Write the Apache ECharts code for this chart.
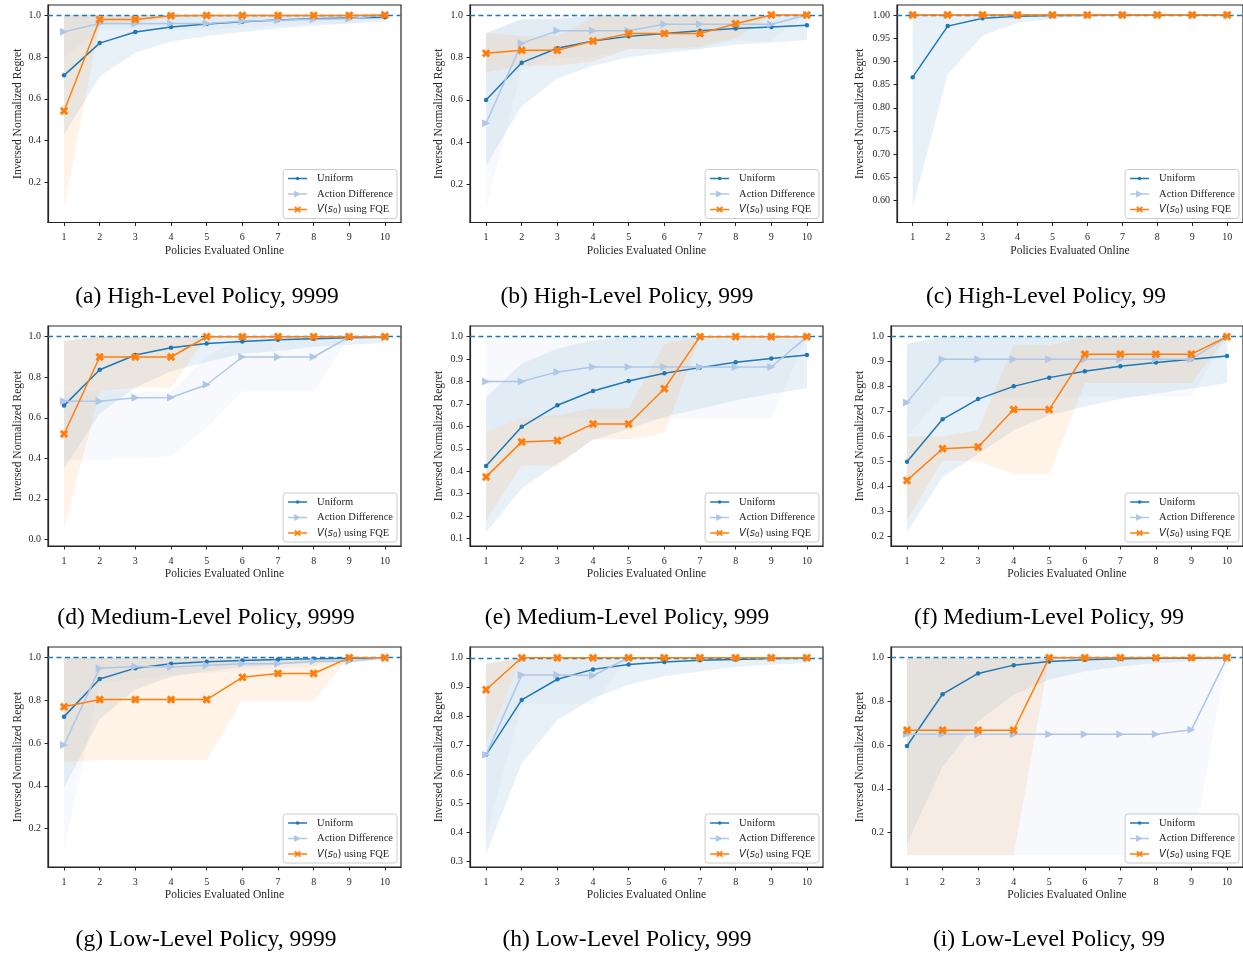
<!DOCTYPE html>
<html><head><meta charset="utf-8">
<script src="https://cdn.jsdelivr.net/npm/echarts@6/dist/echarts.min.js"></script>
<style>html,body{margin:0;padding:0;background:#fff}#c{width:1243px;height:957px}</style>
</head><body><div id="c"></div>
<script>
// ---------- DATA ----------
const xValues = [1, 2, 3, 4, 5, 6, 7, 8, 9, 10];
const seriesNames = ['Uniform', 'Action Difference', 'V(s_0) using FQE'];
const captions = ['(a) High-Level Policy, 9999', '(b) High-Level Policy, 999', '(c) High-Level Policy, 99',
  '(d) Medium-Level Policy, 9999', '(e) Medium-Level Policy, 999', '(f) Medium-Level Policy, 99',
  '(g) Low-Level Policy, 9999', '(h) Low-Level Policy, 999', '(i) Low-Level Policy, 99'];
const xAxisTitle = 'Policies Evaluated Online';
const yAxisTitle = 'Inversed Normalized Regret';

// y tick labels per panel
const a_yticks = [0.2, 0.4, 0.6, 0.8, 1.0];
const b_yticks = [0.2, 0.4, 0.6, 0.8, 1.0];
const c_yticks = [0.60, 0.65, 0.70, 0.75, 0.80, 0.85, 0.90, 0.95, 1.00];
const d_yticks = [0.0, 0.2, 0.4, 0.6, 0.8, 1.0];
const e_yticks = [0.1, 0.2, 0.3, 0.4, 0.5, 0.6, 0.7, 0.8, 0.9, 1.0];
const f_yticks = [0.2, 0.3, 0.4, 0.5, 0.6, 0.7, 0.8, 0.9, 1.0];
const g_yticks = [0.2, 0.4, 0.6, 0.8, 1.0];
const h_yticks = [0.3, 0.4, 0.5, 0.6, 0.7, 0.8, 0.9, 1.0];
const i_yticks = [0.2, 0.4, 0.6, 0.8, 1.0];

// (a)
const a_uni    = [0.712, 0.866, 0.919, 0.943, 0.957, 0.968, 0.976, 0.982, 0.986, 0.990];
const a_uni_lo = [0.43, 0.707, 0.82, 0.874, 0.90, 0.919, 0.936, 0.95, 0.96, 0.968];
const a_uni_hi = [1, 1, 1, 1, 1, 1, 1, 1, 1, 1];
const a_act    = [0.920, 0.960, 0.959, 0.960, 0.960, 0.970, 0.975, 0.980, 0.982, 1.0];
const a_act_lo = [0.80, 0.93, 0.93, 0.93, 0.93, 0.94, 0.95, 0.96, 0.96, 1.0];
const a_act_hi = [1, 1, 1, 1, 1, 1, 1, 1, 1, 1];
const a_fqe    = [0.542, 0.979, 0.979, 0.997, 0.998, 0.998, 0.998, 0.998, 0.998, 1.0];
const a_fqe_lo = [0.08, 0.96, 0.96, 0.99, 0.99, 0.99, 0.99, 0.99, 0.99, 1.0];
const a_fqe_hi = [1, 1, 1, 1, 1, 1, 1, 1, 1, 1];
// (b)
const b_uni    = [0.599, 0.775, 0.843, 0.877, 0.899, 0.912, 0.925, 0.936, 0.943, 0.951];
const b_uni_lo = [0.29, 0.57, 0.70, 0.76, 0.80, 0.82, 0.84, 0.86, 0.87, 0.882];
const b_uni_hi = [0.915, 0.98, 0.98, 1, 1, 1, 1, 1, 1, 1];
const b_act    = [0.489, 0.866, 0.925, 0.925, 0.925, 0.956, 0.956, 0.956, 0.956, 1.0];
const b_act_lo = [0.09, 0.74, 0.80, 0.80, 0.84, 0.84, 0.84, 0.88, 0.88, 1.0];
const b_act_hi = [0.915, 0.98, 1, 1, 1, 1, 1, 1, 1, 1];
const b_fqe    = [0.819, 0.833, 0.833, 0.877, 0.912, 0.912, 0.912, 0.959, 1.0, 1.0];
const b_fqe_lo = [0.73, 0.76, 0.76, 0.78, 0.84, 0.84, 0.85, 0.89, 1.0, 1.0];
const b_fqe_hi = [0.915, 0.90, 0.90, 0.99, 1, 1, 1, 1, 1, 1];
// (c)
const c_uni    = [0.866, 0.976, 0.993, 0.997, 0.999, 0.9995, 1, 1, 1, 1];
const c_uni_lo = [0.586, 0.872, 0.956, 0.983, 0.992, 0.996, 0.998, 0.999, 1.0, 1.0];
const c_uni_hi = [1, 1, 1, 1, 1, 1, 1, 1, 1, 1];
const c_act    = [1, 1, 1, 1, 1, 1, 1, 1, 1, 1];
const c_act_lo = [1, 1, 1, 1, 1, 1, 1, 1, 1, 1];
const c_act_hi = [1, 1, 1, 1, 1, 1, 1, 1, 1, 1];
const c_fqe    = [1, 1, 1, 1, 1, 1, 1, 1, 1, 1];
const c_fqe_lo = [1, 1, 1, 1, 1, 1, 1, 1, 1, 1];
const c_fqe_hi = [1, 1, 1, 1, 1, 1, 1, 1, 1, 1];
// (d)
const d_uni    = [0.66, 0.837, 0.91, 0.946, 0.967, 0.977, 0.985, 0.99, 0.995, 0.998];
const d_uni_lo = [0.35, 0.62, 0.75, 0.83, 0.875, 0.916, 0.93, 0.95, 0.96, 0.97];
const d_uni_hi = [0.98, 1, 1, 1, 1, 1, 1, 1, 1, 1];
const d_act    = [0.681, 0.681, 0.699, 0.70, 0.763, 0.90, 0.90, 0.90, 1.0, 1.0];
const d_act_lo = [0.39, 0.39, 0.40, 0.41, 0.55, 0.73, 0.73, 0.73, 1.0, 1.0];
const d_act_hi = [0.73, 0.73, 0.73, 0.73, 0.90, 1, 1, 1, 1, 1];
const d_fqe    = [0.52, 0.90, 0.90, 0.90, 1.0, 1, 1, 1, 1, 1];
const d_fqe_lo = [0.05, 0.73, 0.75, 0.75, 1.0, 1, 1, 1, 1, 1];
const d_fqe_hi = [0.98, 1, 1, 1, 1, 1, 1, 1, 1, 1];
// (e)
const e_uni    = [0.424, 0.598, 0.694, 0.758, 0.802, 0.837, 0.862, 0.886, 0.903, 0.918];
const e_uni_lo = [0.128, 0.323, 0.434, 0.538, 0.59, 0.642, 0.679, 0.716, 0.746, 0.77];
const e_uni_hi = [0.73, 0.88, 0.946, 0.984, 1, 1, 1, 1, 1, 1];
const e_act    = [0.80, 0.80, 0.843, 0.865, 0.865, 0.865, 0.865, 0.865, 0.865, 1.0];
const e_act_lo = [0.575, 0.635, 0.635, 0.635, 0.635, 0.635, 0.635, 0.635, 0.635, 1.0];
const e_act_hi = [1, 1, 1, 1, 1, 1, 1, 1, 1, 1];
const e_fqe    = [0.375, 0.531, 0.537, 0.611, 0.611, 0.768, 1, 1, 1, 1];
const e_fqe_lo = [0.18, 0.427, 0.424, 0.545, 0.543, 0.57, 1, 1, 1, 1];
const e_fqe_hi = [0.575, 0.635, 0.65, 0.68, 0.68, 0.966, 1, 1, 1, 1];
// (f)
const f_uni    = [0.499, 0.669, 0.75, 0.801, 0.836, 0.862, 0.882, 0.897, 0.91, 0.923];
const f_uni_lo = [0.217, 0.438, 0.53, 0.625, 0.685, 0.72, 0.75, 0.772, 0.792, 0.814];
const f_uni_hi = [0.972, 1, 1, 1, 1, 1, 1, 1, 1, 1];
const f_act    = [0.736, 0.91, 0.91, 0.91, 0.91, 0.91, 0.91, 0.91, 0.91, 1.0];
const f_act_lo = [0.60, 0.76, 0.76, 0.76, 0.76, 0.76, 0.76, 0.76, 0.76, 1.0];
const f_act_hi = [0.97, 1, 1, 1, 1, 1, 1, 1, 1, 1];
const f_fqe    = [0.424, 0.551, 0.558, 0.708, 0.708, 0.93, 0.93, 0.93, 0.93, 1.0];
const f_fqe_lo = [0.264, 0.504, 0.50, 0.45, 0.45, 0.814, 0.814, 0.814, 0.814, 1.0];
const f_fqe_hi = [0.60, 0.60, 0.625, 0.965, 0.965, 1, 1, 1, 1, 1];
// (g)
const g_uni    = [0.724, 0.90, 0.951, 0.972, 0.981, 0.987, 0.991, 0.995, 0.997, 0.998];
const g_uni_lo = [0.39, 0.713, 0.85, 0.912, 0.936, 0.956, 0.967, 0.975, 0.983, 0.99];
const g_uni_hi = [1, 1, 1, 1, 1, 1, 1, 1, 1, 1];
const g_act    = [0.591, 0.951, 0.959, 0.956, 0.964, 0.972, 0.972, 0.983, 0.983, 1.0];
const g_act_lo = [0.10, 0.88, 0.90, 0.92, 0.93, 0.94, 0.95, 0.96, 0.97, 1.0];
const g_act_hi = [1, 1, 1, 1, 1, 1, 1, 1, 1, 1];
const g_fqe    = [0.77, 0.804, 0.804, 0.804, 0.804, 0.908, 0.926, 0.926, 1.0, 1.0];
const g_fqe_lo = [0.513, 0.52, 0.52, 0.52, 0.52, 0.80, 0.80, 0.80, 1.0, 1.0];
const g_fqe_hi = [1, 1, 1, 1, 1, 1, 1, 1, 1, 1];
// (h)
const h_uni    = [0.666, 0.855, 0.926, 0.96, 0.977, 0.985, 0.991, 0.994, 0.997, 0.998];
const h_uni_lo = [0.326, 0.637, 0.786, 0.861, 0.907, 0.936, 0.953, 0.968, 0.976, 0.982];
const h_uni_hi = [0.98, 1, 1, 1, 1, 1, 1, 1, 1, 1];
const h_act    = [0.666, 0.941, 0.941, 0.939, 1.0, 1, 1, 1, 1, 1];
const h_act_lo = [0.38, 0.84, 0.84, 0.84, 1.0, 1, 1, 1, 1, 1];
const h_act_hi = [0.72, 1, 1, 1, 1, 1, 1, 1, 1, 1];
const h_fqe    = [0.89, 1, 1, 1, 1, 1, 1, 1, 1, 1];
const h_fqe_lo = [0.71, 1, 1, 1, 1, 1, 1, 1, 1, 1];
const h_fqe_hi = [0.98, 1, 1, 1, 1, 1, 1, 1, 1, 1];
// (i)
const i_uni    = [0.596, 0.833, 0.928, 0.966, 0.983, 0.991, 0.995, 0.998, 0.998, 1.0];
const i_uni_lo = [0.15, 0.50, 0.71, 0.83, 0.90, 0.937, 0.96, 0.975, 0.985, 0.99];
const i_uni_hi = [1, 1, 1, 1, 1, 1, 1, 1, 1, 1];
const i_act    = [0.65, 0.65, 0.65, 0.65, 0.65, 0.65, 0.65, 0.65, 0.67, 1.0];
const i_act_lo = [0.096, 0.096, 0.096, 0.096, 0.096, 0.096, 0.096, 0.096, 0.096, 1.0];
const i_act_hi = [1, 1, 1, 1, 1, 1, 1, 1, 1, 1];
const i_fqe    = [0.668, 0.668, 0.668, 0.668, 1, 1, 1, 1, 1, 1];
const i_fqe_lo = [0.096, 0.096, 0.096, 0.096, 1, 1, 1, 1, 1, 1];
const i_fqe_hi = [1, 1, 1, 1, 1, 1, 1, 1, 1, 1];

// ---------- LAYOUT ----------
const W = 1243, H = 957;
const panels = [
  {cap: 0, d: [[a_uni, a_uni_lo, a_uni_hi], [a_act, a_act_lo, a_act_hi], [a_fqe, a_fqe_lo, a_fqe_hi]], ticks: a_yticks, ymin: 0.009, ymax: 1.048, dec: 1, g: [48, 5, 353, 217.5], gap: 24.5, cx: 207, cy: 297},
  {cap: 1, d: [[b_uni, b_uni_lo, b_uni_hi], [b_act, b_act_lo, b_act_hi], [b_fqe, b_fqe_lo, b_fqe_hi]], ticks: b_yticks, ymin: 0.021, ymax: 1.047, dec: 1, g: [470, 5, 353, 217.5], gap: 25, cx: 627, cy: 297},
  {cap: 2, d: [[c_uni, c_uni_lo, c_uni_hi], [c_act, c_act_lo, c_act_hi], [c_fqe, c_fqe_lo, c_fqe_hi]], ticks: c_yticks, ymin: 0.553, ymax: 1.0215, dec: 2, g: [897, 5, 346, 217.5], gap: 31, cx: 1046, cy: 297},
  {cap: 3, d: [[d_uni, d_uni_lo, d_uni_hi], [d_act, d_act_lo, d_act_hi], [d_fqe, d_fqe_lo, d_fqe_hi]], ticks: d_yticks, ymin: -0.033, ymax: 1.053, dec: 1, g: [48, 326, 353, 220], gap: 24.5, cx: 206, cy: 618},
  {cap: 4, d: [[e_uni, e_uni_lo, e_uni_hi], [e_act, e_act_lo, e_act_hi], [e_fqe, e_fqe_lo, e_fqe_hi]], ticks: e_yticks, ymin: 0.067, ymax: 1.0475, dec: 1, g: [470, 326, 353, 220], gap: 25, cx: 627, cy: 618},
  {cap: 5, d: [[f_uni, f_uni_lo, f_uni_hi], [f_act, f_act_lo, f_act_hi], [f_fqe, f_fqe_lo, f_fqe_hi]], ticks: f_yticks, ymin: 0.161, ymax: 1.043, dec: 1, g: [891, 326, 352, 220], gap: 25, cx: 1049, cy: 618},
  {cap: 6, d: [[g_uni, g_uni_lo, g_uni_hi], [g_act, g_act_lo, g_act_hi], [g_fqe, g_fqe_lo, g_fqe_hi]], ticks: g_yticks, ymin: 0.02, ymax: 1.05, dec: 1, g: [48, 647, 353, 220], gap: 24.5, cx: 206, cy: 940},
  {cap: 7, d: [[h_uni, h_uni_lo, h_uni_hi], [h_act, h_act_lo, h_act_hi], [h_fqe, h_fqe_lo, h_fqe_hi]], ticks: h_yticks, ymin: 0.28, ymax: 1.037, dec: 1, g: [470, 647, 353, 220], gap: 25, cx: 627, cy: 940},
  {cap: 8, d: [[i_uni, i_uni_lo, i_uni_hi], [i_act, i_act_lo, i_act_hi], [i_fqe, i_fqe_lo, i_fqe_hi]], ticks: i_yticks, ymin: 0.042, ymax: 1.049, dec: 1, g: [891, 647, 352, 220], gap: 25, cx: 1049, cy: 940}
];

// ---------- STYLE ----------
const SERIF = 'Liberation Serif, Times New Roman, serif';
const INK = '#262626';
const colors = ['#1f77b4', '#aec7e8', '#ff7f0e'];
const bandColors = ['rgba(31,119,180,0.1)', 'rgba(174,199,232,0.1)', 'rgba(255,127,14,0.1)'];
const X_PATH = 'M0,2.5L2.5,0L5,2.5L7.5,0L10,2.5L7.5,5L10,7.5L7.5,10L5,7.5L2.5,10L0,7.5L2.5,5Z';
const symbols = ['circle', 'path://M0,0L10,5L0,10Z', 'path://' + X_PATH];
const symbolSizes = [4.5, 8, 8.5];
// legend icons: a thin line with the marker in the middle, inside a 19x10 box
const BOX = 'M0,0L0.01,0L0,0.01Z M19,10L18.99,10L19,9.99Z ';
const LINE = 'M0,4.35L19,4.35L19,5.65L0,5.65Z ';
const legendIcons = [
  'path://' + BOX + LINE + 'M9.5,3.2A1.8,1.8 0 1,1 9.49,3.2Z',
  'path://' + BOX + LINE + 'M6,1.5L13,5L6,8.5Z',
  'path://' + BOX + LINE + 'M6.2,2.9L7.4,1.7L9.5,3.8L11.6,1.7L12.8,2.9L10.7,5L12.8,7.1L11.6,8.3L9.5,6.2L7.4,8.3L6.2,7.1L8.3,5Z'
];

const grids = [], xAxes = [], yAxes = [], series = [], legends = [], graphics = [];

panels.forEach((p, pi) => {
  const [gl, gt, gw, gh] = p.g;
  grids.push({left: gl, top: gt, width: gw, height: gh, show: true, borderColor: INK, borderWidth: 1.2, backgroundColor: 'transparent'});
  xAxes.push({
    gridIndex: pi, type: 'value', min: 0.55, max: 10.45,
    name: xAxisTitle, nameLocation: 'middle', nameGap: 22,
    nameTextStyle: {fontFamily: SERIF, fontSize: 11.5, color: INK},
    axisLine: {show: true, onZero: false, lineStyle: {color: INK, width: 1.2}},
    axisTick: {show: true, inside: false, length: 3.5, customValues: xValues, lineStyle: {color: INK, width: 1}},
    axisLabel: {show: true, customValues: xValues, margin: 10, fontFamily: SERIF, fontSize: 10, color: INK, formatter: v => String(v)},
    splitLine: {show: false}
  });
  yAxes.push({
    gridIndex: pi, type: 'value', min: p.ymin, max: p.ymax,
    name: yAxisTitle, nameLocation: 'middle', nameGap: p.gap,
    nameTextStyle: {fontFamily: SERIF, fontSize: 11.5, color: INK},
    axisLine: {show: true, onZero: false, lineStyle: {color: INK, width: 1.2}},
    axisTick: {show: true, inside: false, length: 3.5, customValues: p.ticks, lineStyle: {color: INK, width: 1}},
    axisLabel: {show: true, customValues: p.ticks, margin: 7, fontFamily: SERIF, fontSize: 10, color: INK, formatter: v => Number(v).toFixed(p.dec)},
    splitLine: {show: false}
  });
  // bands
  p.d.forEach(([mean, lo, hi], mi) => {
    series.push({
      type: 'custom', name: 'band-' + pi + '-' + mi, xAxisIndex: pi, yAxisIndex: pi, silent: true, z: 1,
      data: xValues.map((x, k) => [x, lo[k], hi[k]]),
      encode: {x: 0, y: [1, 2]},
      renderItem: (params, api) => {
        if (params.dataIndex !== 0) return null;
        const up = xValues.map((x, k) => api.coord([x, hi[k]]));
        const dn = xValues.map((x, k) => api.coord([x, lo[k]])).reverse();
        return {type: 'polygon', shape: {points: up.concat(dn)}, style: {fill: bandColors[mi], stroke: null}, silent: true};
      }
    });
  });
  // lines
  p.d.forEach(([mean], mi) => {
    const s = {
      type: 'line', name: seriesNames[mi], xAxisIndex: pi, yAxisIndex: pi,
      data: xValues.map((x, k) => [x, mean[k]]),
      symbol: symbols[mi], symbolSize: symbolSizes[mi], showSymbol: true, showAllSymbol: true,
      lineStyle: {color: colors[mi], width: 1.5}, itemStyle: {color: colors[mi]},
      z: 3 + mi, clip: false, silent: true
    };
    if (mi === 2) {
      s.markLine = {silent: true, symbol: ['none', 'none'], label: {show: false},
        lineStyle: {type: [5, 3.5], color: '#1f77b4', width: 1.3}, data: [{yAxis: 1}]};
    }
    series.push(s);
  });
  legends.push({
    data: seriesNames.map((n, mi) => ({name: n, icon: legendIcons[mi]})),
    orient: 'vertical', selectedMode: false,
    right: W - (gl + gw) + 4, bottom: H - (gt + gh) + 4,
    itemWidth: 19, itemHeight: 10, itemGap: 3.5, padding: [3, 4, 3, 5],
    backgroundColor: 'rgba(255,255,255,0.8)', borderColor: '#cccccc', borderWidth: 1, borderRadius: 3,
    textStyle: {fontFamily: SERIF, fontSize: 10.5, color: INK, lineHeight: 12, padding: [0, 0, 0, 5],
      rich: {
        m: {fontFamily: 'DejaVu Sans', fontStyle: 'italic', fontSize: 10, lineHeight: 12},
        p: {fontFamily: 'DejaVu Sans', fontSize: 10, lineHeight: 12},
        s: {fontFamily: 'DejaVu Sans', fontSize: 7, lineHeight: 12, padding: [4, 0, 0, 0]},
        t: {fontFamily: SERIF, fontSize: 10.5, lineHeight: 12}
      }},
    formatter: n => n === seriesNames[2] ? '{m|V}{p|(}{m|s}{s|0}{p|)}{t| using FQE}' : n
  });
  graphics.push({type: 'text', x: p.cx, y: p.cy, silent: true,
    style: {text: captions[p.cap], fontFamily: SERIF, fontSize: 23.5, fill: '#000',
      align: 'center', verticalAlign: 'middle', textAlign: 'center', textVerticalAlign: 'middle'}});
});

const chart = echarts.init(document.getElementById('c'), null, {renderer: 'canvas', width: W, height: H});
chart.setOption({
  animation: false, backgroundColor: '#ffffff',
  grid: grids, xAxis: xAxes, yAxis: yAxes, series: series, legend: legends, graphic: graphics
});
</script></body></html>
